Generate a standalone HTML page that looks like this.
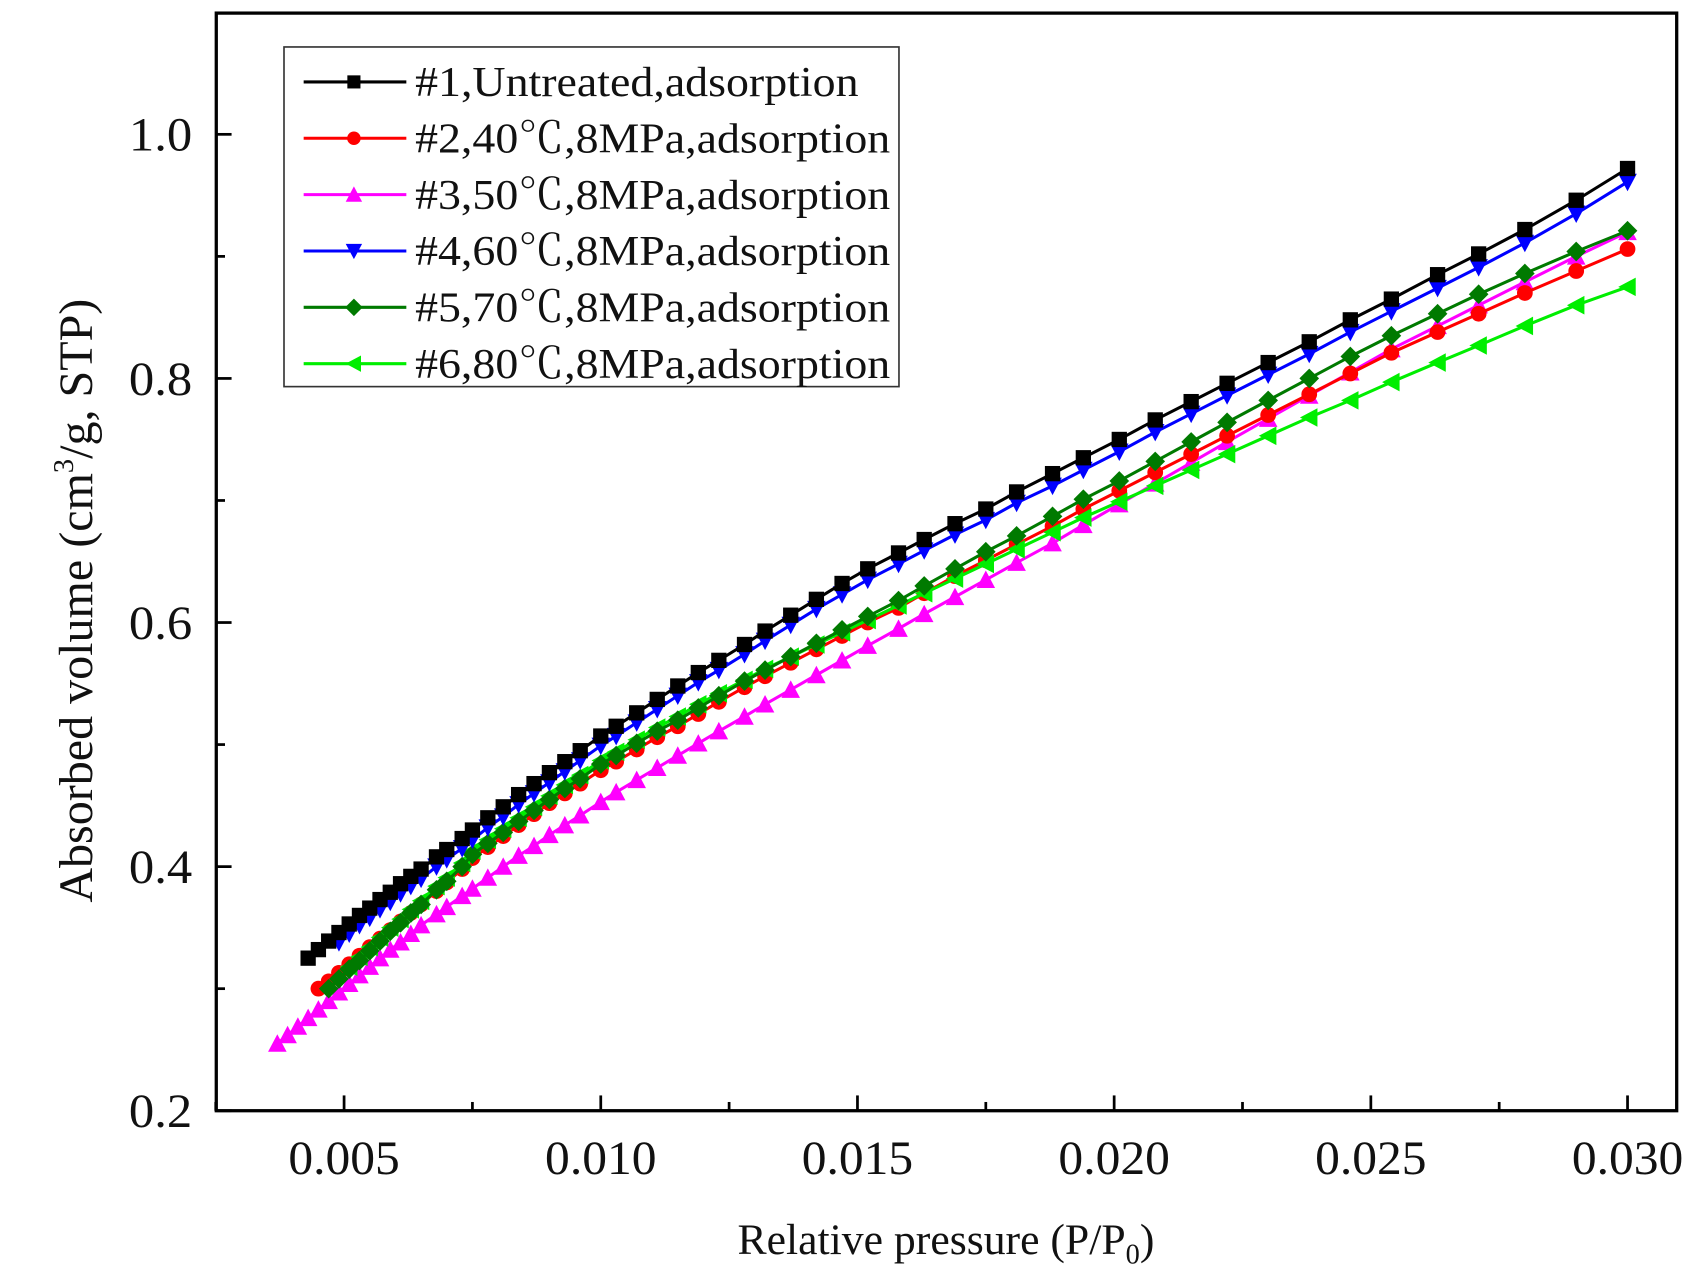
<!DOCTYPE html>
<html><head><meta charset="utf-8"><style>
html,body{margin:0;padding:0;background:#fff;}
svg{display:block;}
text{font-family:"Liberation Serif","Noto Serif CJK SC",serif;fill:#111;}
</style></head><body>
<svg id="chart" width="1704" height="1280" viewBox="0 0 1560 1172" preserveAspectRatio="none" xmlns="http://www.w3.org/2000/svg">
<g id="plot"></g>
</svg>
<script>
const xs=[0.0037,0.0039,0.0041,0.0043,0.0045,0.0047,0.0049,0.0051,0.0053,0.0055,0.0057,0.0059,0.0061,0.0063,0.0065,0.0068,0.0070,0.0073,0.0075,0.0078,0.0081,0.0084,0.0087,0.0090,0.0093,0.0096,0.0100,0.0103,0.0107,0.0111,0.0115,0.0119,0.0123,0.0128,0.0132,0.0137,0.0142,0.0147,0.0152,0.0158,0.0163,0.0169,0.0175,0.0181,0.0188,0.0194,0.0201,0.0208,0.0215,0.0222,0.0230,0.0238,0.0246,0.0254,0.0263,0.0271,0.0280,0.0290,0.0300];
const n=null;
const s1=[n,n,n,.325,.332,.339,.346,.353,.360,.366,.373,.379,.386,.392,.398,.408,.414,.423,.430,.440,.449,.459,.468,.477,.486,.495,.507,.515,.526,.537,.548,.559,.569,.582,.593,.606,.619,.632,.644,.657,.668,.681,.693,.707,.722,.735,.750,.766,.781,.796,.813,.830,.848,.865,.885,.902,.922,.946,.972];
const s2=[n,n,n,n,.300,.306,.313,.320,.327,.334,.341,.348,.355,.362,.369,.380,.387,.398,.407,.416,.425,.434,.443,.452,.460,.468,.479,.486,.496,.506,.515,.525,.535,.547,.556,.567,.578,.589,.600,.612,.624,.638,.651,.664,.679,.693,.708,.723,.738,.753,.770,.787,.804,.821,.838,.853,.870,.888,.906];
const s3=[.255,.262,.269,.276,.283,.290,.297,.304,.311,.318,.325,.332,.338,.345,.352,.361,.367,.376,.382,.391,.400,.409,.417,.426,.434,.442,.453,.461,.471,.481,.491,.501,.511,.523,.533,.545,.557,.569,.581,.595,.607,.621,.635,.649,.665,.680,.697,.714,.731,.748,.767,.786,.805,.824,.843,.860,.879,.900,.920];
const s4=[n,n,n,n,n,n,.338,.345,.352,.358,.365,.371,.378,.384,.390,.400,.406,.415,.422,.432,.441,.451,.460,.469,.478,.487,.499,.507,.518,.529,.540,.551,.561,.574,.585,.598,.611,.623,.635,.648,.659,.672,.684,.698,.712,.725,.740,.756,.771,.786,.803,.820,.838,.855,.874,.891,.911,.935,.961];
const s5=[n,n,n,n,n,.300,.308,.316,.323,.331,.339,.347,.354,.362,.369,.381,.388,.400,.410,.419,.428,.437,.446,.455,.464,.472,.484,.491,.501,.511,.520,.530,.540,.552,.561,.572,.583,.594,.605,.618,.630,.644,.658,.671,.687,.701,.716,.732,.748,.764,.782,.800,.818,.835,.853,.869,.886,.904,.921];
const s6=[n,n,n,n,n,n,n,.318,.326,.334,.342,.350,.357,.365,.372,.384,.391,.403,.413,.422,.431,.440,.449,.458,.467,.475,.487,.494,.504,.514,.523,.533,.542,.553,.562,.572,.582,.592,.602,.614,.624,.636,.648,.660,.674,.686,.699,.712,.725,.738,.753,.768,.782,.797,.813,.827,.843,.860,.875];
const xTicks=[0.005,0.010,0.015,0.020,0.025,0.030];
const xTickLabels=["0.005","0.010","0.015","0.020","0.025","0.030"];
const yTicks=[0.2,0.4,0.6,0.8,1.0];
const yTickLabels=["0.2","0.4","0.6","0.8","1.0"];
const seriesNames=["#1,Untreated,adsorption","#2,40℃,8MPa,adsorption","#3,50℃,8MPa,adsorption","#4,60℃,8MPa,adsorption","#5,70℃,8MPa,adsorption","#6,80℃,8MPa,adsorption"];

const NS="http://www.w3.org/2000/svg";
const L=198,R=1535,T=12,B=1017;
const X=v=>315+(v-0.005)*47000;
const Y=v=>1017-(v-0.2)*1117.5;
const g=document.getElementById('plot');
function mk(tag,at,parent){const e=document.createElementNS(NS,tag);for(const k in at)e.setAttribute(k,at[k]);(parent||g).appendChild(e);return e;}
const colors=["#000000","#ff0000","#ff00ff","#0000ff","#007a00","#00ee00"];
const shapes=["square","circle","up","down","diamond","left"];
const data=[s1,s2,s3,s4,s5,s6];
function marker(shape,cx,cy,c,parent,sz){
  const s=sz||7.5;let e;
  if(shape==="square")e=mk('rect',{x:cx-s+0.5,y:cy-s+0.5,width:2*s-1,height:2*s-1,fill:c},parent);
  else if(shape==="circle")e=mk('circle',{cx:cx,cy:cy,r:s-0.3,fill:c},parent);
  else{let p;
    if(shape==="up")p=[[cx,cy-s-1],[cx+s+1,cy+s],[cx-s-1,cy+s]];
    if(shape==="down")p=[[cx,cy+s+1],[cx+s+1,cy-s],[cx-s-1,cy-s]];
    if(shape==="diamond")p=[[cx,cy-s-1.5],[cx+s+1.5,cy],[cx,cy+s+1.5],[cx-s-1.5,cy]];
    if(shape==="left")p=[[cx-s-1,cy],[cx+s,cy-s-1],[cx+s,cy+s+1]];
    e=mk('polygon',{points:p.map(q=>q.join(',')).join(' '),fill:c},parent);}
  return e;
}
const order=[2,1,5,4,3,0];
order.forEach(i=>{
  const sg=mk('g',{});
  
  
  const pts=[];data[i].forEach((v,j)=>{if(v!==null)pts.push([X(xs[j]),Y(v)]);});
  const line=mk('polyline',{points:pts.map(p=>p.join(',')).join(' '),fill:'none',stroke:colors[i],'stroke-width':2.8},sg);
  
  
  pts.forEach(p=>{const m=marker(shapes[i],p[0],p[1],colors[i],sg);
    
    });
});
const frame=mk('rect',{x:L,y:T,width:R-L,height:B-T,fill:'none',stroke:'#000','stroke-width':3});


xTicks.forEach((v,i)=>{
  const t=mk('line',{x1:X(v),x2:X(v),y1:B,y2:B-14,stroke:'#000','stroke-width':2.5});
  
  
  const m=mk('line',{x1:X(v-0.0025),x2:X(v-0.0025),y1:B,y2:B-8,stroke:'#000','stroke-width':2.5});
  
  
  const lb=mk('text',{x:X(v),y:1075,'text-anchor':'middle','font-size':44,textLength:102,lengthAdjust:'spacingAndGlyphs'});
  lb.textContent=xTickLabels[i];
  
  
});
yTicks.forEach((v,i)=>{
  const t=mk('line',{x1:L,x2:L+14,y1:Y(v),y2:Y(v),stroke:'#000','stroke-width':2.5});
  
  
  if(v<1.0){const m=mk('line',{x1:L,x2:L+8,y1:Y(v+0.1),y2:Y(v+0.1),stroke:'#000','stroke-width':2.5});
  
  }
  const lb=mk('text',{x:176,y:Y(v)+15,'text-anchor':'end','font-size':44,textLength:58,lengthAdjust:'spacingAndGlyphs'});
  lb.textContent=yTickLabels[i];
  
  
});
const xt=mk('text',{x:866,y:1148,'text-anchor':'middle','font-size':40});
xt.innerHTML='Relative pressure (P/P<tspan font-size="26" dy="9">0</tspan><tspan dy="-9">)</tspan>';


const yt=mk('text',{x:0,y:0,'text-anchor':'middle','font-size':44,transform:'translate(84,550) rotate(-90)'});
yt.innerHTML='Absorbed volume (cm<tspan font-size="26" dy="-17">3</tspan><tspan dy="17">/g, STP)</tspan>';


const lg=mk('g',{});


mk('rect',{x:260,y:43,width:563,height:311,fill:'#fff',stroke:'#333','stroke-width':1.5},lg);
seriesNames.forEach((nm,i)=>{
  const e=mk('g',{},lg);
  
  
  const yy=75+i*51.6;
  mk('line',{x1:278,x2:372,y1:yy,y2:yy,stroke:colors[i],'stroke-width':2.8},e);
  marker(shapes[i],324,yy,colors[i],e,6.5);
  const t=mk('text',{x:380,y:yy+13,'font-size':39,textLength:(i===0?406:435),lengthAdjust:'spacingAndGlyphs'},e);
  t.textContent=nm;
});
</script>
</body></html>
